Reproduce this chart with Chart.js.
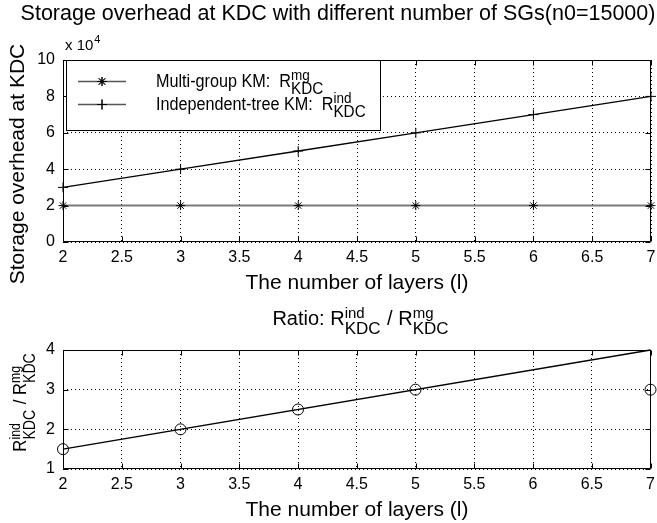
<!DOCTYPE html>
<html><head><meta charset="utf-8">
<script src="https://cdn.jsdelivr.net/npm/chart.js@4/dist/chart.umd.min.js"></script>
<style>html,body{margin:0;padding:0;background:#fff;width:657px;height:523px;overflow:hidden}canvas{position:absolute;left:0}</style>
</head><body>
<canvas id="topc" width="657" height="300" style="top:0"></canvas>
<canvas id="botc" width="657" height="223" style="top:300px"></canvas>
<script>
// ---- data ----
const layers = [2, 3, 4, 5, 6, 7];
const multiGroup = [20000, 20000, 20000, 20000, 20000, 20000];
const independentTree = [30000, 40000, 50000, 60000, 70000, 80000];
const ratioLineX = [2, 7];
const ratioLineY = [1.5, 4];
const ratioMarkX = [2, 3, 4, 5, 7];
const ratioMarkY = [1.5, 2, 2.5, 3, 3];
const xTicks = [2, 2.5, 3, 3.5, 4, 4.5, 5, 5.5, 6, 6.5, 7];
const topYTicks = [0, 20000, 40000, 60000, 80000, 100000];
const botYTicks = [1, 2, 3, 4];

const FF = "'Liberation Sans', Arial, Helvetica, sans-serif";
const pts = (xs, ys) => xs.map((x, i) => ({x, y: ys[i]}));

// rich text: parts are strings or {sup, sub}
function richMeasure(ctx, parts, s) {
  let w = 0;
  for (const p of parts) {
    if (typeof p === 'string') { ctx.font = s.main + 'px ' + FF; w += ctx.measureText(p).width; }
    else {
      ctx.font = s.sup + 'px ' + FF; const a = ctx.measureText(p.sup).width;
      ctx.font = s.sub + 'px ' + FF; const b = ctx.measureText(p.sub).width;
      w += Math.max(a, b) + 1;
    }
  }
  return w;
}
function richDraw(ctx, parts, x, y, s) { // x = left, y = baseline
  ctx.fillStyle = '#000'; ctx.textAlign = 'left'; ctx.textBaseline = 'alphabetic';
  for (const p of parts) {
    if (typeof p === 'string') { ctx.font = s.main + 'px ' + FF; ctx.fillText(p, x, y); x += ctx.measureText(p).width; }
    else {
      ctx.font = s.sup + 'px ' + FF; ctx.fillText(p.sup, x, y - s.up); const a = ctx.measureText(p.sup).width;
      ctx.font = s.sub + 'px ' + FF; ctx.fillText(p.sub, x, y + s.down); const b = ctx.measureText(p.sub).width;
      x += Math.max(a, b) + 1;
    }
  }
}
function richCentered(ctx, parts, cx, y, s, rot, sx) {
  ctx.save();
  ctx.translate(cx, y);
  if (rot) ctx.rotate(-Math.PI / 2);
  if (sx) ctx.scale(sx, 1);
  const w = richMeasure(ctx, parts, s);
  richDraw(ctx, parts, -w / 2, 0, s);
  ctx.restore();
}
function plainText(ctx, t, x, y, size, align, rot) {
  ctx.save(); ctx.translate(x, y); if (rot) ctx.rotate(-Math.PI / 2);
  ctx.font = size + 'px ' + FF; ctx.fillStyle = '#000'; ctx.textAlign = align; ctx.textBaseline = 'alphabetic';
  ctx.fillText(t, 0, 0); ctx.restore();
}

function frameAndTicks(chart) {
  const ctx = chart.ctx, a = chart.chartArea, xs = chart.scales.x, ys = chart.scales.y;
  ctx.save();
  ctx.strokeStyle = '#000'; ctx.lineWidth = 1; ctx.setLineDash([]);
  const L = Math.round(a.left) + 0.5, R = Math.round(a.right) - 0.5, T = Math.round(a.top) + 0.5, B = Math.round(a.bottom) - 0.5;
  ctx.beginPath();
  ctx.rect(L, T, R - L, B - T);
  const tl = 5;
  xs.ticks.forEach(t => {
    const px = Math.round(xs.getPixelForValue(t.value)) + 0.5;
    ctx.moveTo(px, B); ctx.lineTo(px, B - tl);
    ctx.moveTo(px, T); ctx.lineTo(px, T + tl);
  });
  ys.ticks.forEach(t => {
    const py = Math.round(ys.getPixelForValue(t.value)) + 0.5;
    ctx.moveTo(L, py); ctx.lineTo(L + tl, py);
    ctx.moveTo(R, py); ctx.lineTo(R - tl, py);
  });
  ctx.stroke();
  ctx.restore();
}

function xScale(ticks, h) {
  return {
    type: 'linear', min: 2, max: 7,
    afterBuildTicks: s => { s.ticks = ticks.map(v => ({value: v})); },
    afterFit: s => { s.height = h; s.paddingLeft = 0; s.paddingRight = 0; },
    grid: {color: '#000', lineWidth: 1, drawTicks: false},
    border: {display: false, dash: [1, 3]},
    ticks: {color: '#000', font: {family: FF, size: 16}, padding: 6, maxRotation: 0, autoSkip: false, callback: v => String(v)}
  };
}
function yScale(min, max, ticks, cb) {
  return {
    type: 'linear', min, max,
    afterBuildTicks: s => { s.ticks = ticks.map(v => ({value: v})); },
    afterFit: s => { s.width = 63; s.paddingTop = 0; s.paddingBottom = 0; },
    grid: {color: '#000', lineWidth: 1, drawTicks: false},
    border: {display: false, dash: [1, 3]},
    ticks: {color: '#000', font: {family: FF, size: 16}, padding: 8, callback: cb}
  };
}

const topPlugin = {
  id: 'topDeco',
  afterDraw(chart) {
    const ctx = chart.ctx;
    frameAndTicks(chart);
    // legend
    ctx.save();
    ctx.fillStyle = '#fff'; ctx.strokeStyle = '#000'; ctx.lineWidth = 1; ctx.setLineDash([]);
    ctx.fillRect(66.5, 60.5, 314, 70); ctx.strokeRect(66.5, 60.5, 314, 70);
    const rows = [
      {y: 81, style: 'star', r: 4.5, parts: ['Multi-group KM:  R', {sup: 'mg', sub: 'KDC'}]},
      {y: 104, style: 'cross', r: 5, parts: ['Independent-tree KM:  R', {sup: 'ind', sub: 'KDC'}]}
    ];
    rows.forEach(r => {
      ctx.strokeStyle = '#555'; ctx.lineWidth = 1.5;
      ctx.beginPath(); ctx.moveTo(78, r.y + 0.5); ctx.lineTo(126, r.y + 0.5); ctx.stroke();
      ctx.strokeStyle = '#000'; ctx.lineWidth = 1;
      Chart.helpers.drawPoint(ctx, {pointStyle: r.style, radius: r.r, borderWidth: 1, rotation: 0}, 102, r.y + 0.5);
      ctx.stroke();
      ctx.save();
      ctx.translate(156, r.y + 6);
      ctx.scale(0.9, 1);
      richDraw(ctx, r.parts, 0, 0, {main: 18, sup: 15, sub: 17, up: 7, down: 7});
      ctx.restore();
    });
    ctx.restore();
    // texts
    plainText(ctx, 'Storage overhead at KDC with different number of SGs(n0=15000)', 338, 20, 21.5, 'center');
    plainText(ctx, 'x 10', 65, 50, 15, 'left');
    ctx.font = '15px ' + FF;
    const w = ctx.measureText('x 10').width;
    plainText(ctx, '4', 65 + w + 1, 43, 11, 'left');
    plainText(ctx, 'Storage overhead at KDC', 24, 164, 21, 'center', true);
    plainText(ctx, 'The number of layers (l)', 357, 289, 21, 'center');
  }
};

const botPlugin = {
  id: 'botDeco',
  afterDraw(chart) {
    const ctx = chart.ctx;
    frameAndTicks(chart);
    richCentered(ctx, ['Ratio: R', {sup: 'ind', sub: 'KDC'}, ' / R', {sup: 'mg', sub: 'KDC'}], 361, 25, {main: 20, sup: 15, sub: 17, up: 7, down: 9});
    richCentered(ctx, ['R', {sup: 'ind', sub: 'KDC'}, ' / R', {sup: 'mg', sub: 'KDC'}], 26, 102, {main: 19, sup: 14, sub: 16, up: 6, down: 9}, true, 0.88);
    plainText(ctx, 'The number of layers (l)', 357, 216, 21, 'center');
  }
};

new Chart(document.getElementById('topc'), {
  type: 'scatter',
  data: {datasets: [
    {label: 'Multi-group KM', data: pts(layers, multiGroup), showLine: true, borderColor: '#7a7a7a', borderWidth: 2,
     pointStyle: 'star', pointRadius: 4.5, pointBorderColor: '#000', pointBorderWidth: 1, pointBackgroundColor: '#000', clip: false},
    {label: 'Independent-tree KM', data: pts(layers, independentTree), showLine: true, borderColor: '#000', borderWidth: 1.3,
     pointStyle: 'cross', pointRadius: 5, pointBorderColor: '#000', pointBorderWidth: 1, clip: false}
  ]},
  options: {
    responsive: false, animation: false, devicePixelRatio: 1,
    layout: {padding: {left: 0, right: 2, top: 60, bottom: 0}},
    plugins: {legend: {display: false}, tooltip: {enabled: false}},
    scales: {
      x: xScale(xTicks, 58),
      y: yScale(0, 100000, topYTicks, v => String(v / 10000))
    }
  },
  plugins: [topPlugin]
});

new Chart(document.getElementById('botc'), {
  type: 'scatter',
  data: {datasets: [
    {label: 'Ratio', data: pts(ratioLineX, ratioLineY), showLine: true, borderColor: '#000', borderWidth: 1.3, pointRadius: 0, clip: false},
    {label: 'Ratio points', data: pts(ratioMarkX, ratioMarkY), showLine: false, pointStyle: 'circle', pointRadius: 5.5,
     pointBorderColor: '#000', pointBorderWidth: 1, pointBackgroundColor: 'rgba(0,0,0,0)', clip: false}
  ]},
  options: {
    responsive: false, animation: false, devicePixelRatio: 1,
    layout: {padding: {left: 0, right: 2, top: 50, bottom: 0}},
    plugins: {legend: {display: false}, tooltip: {enabled: false}},
    scales: {
      x: xScale(xTicks, 54),
      y: yScale(1, 4, botYTicks, v => String(v))
    }
  },
  plugins: [botPlugin]
});
</script>
</body></html>
